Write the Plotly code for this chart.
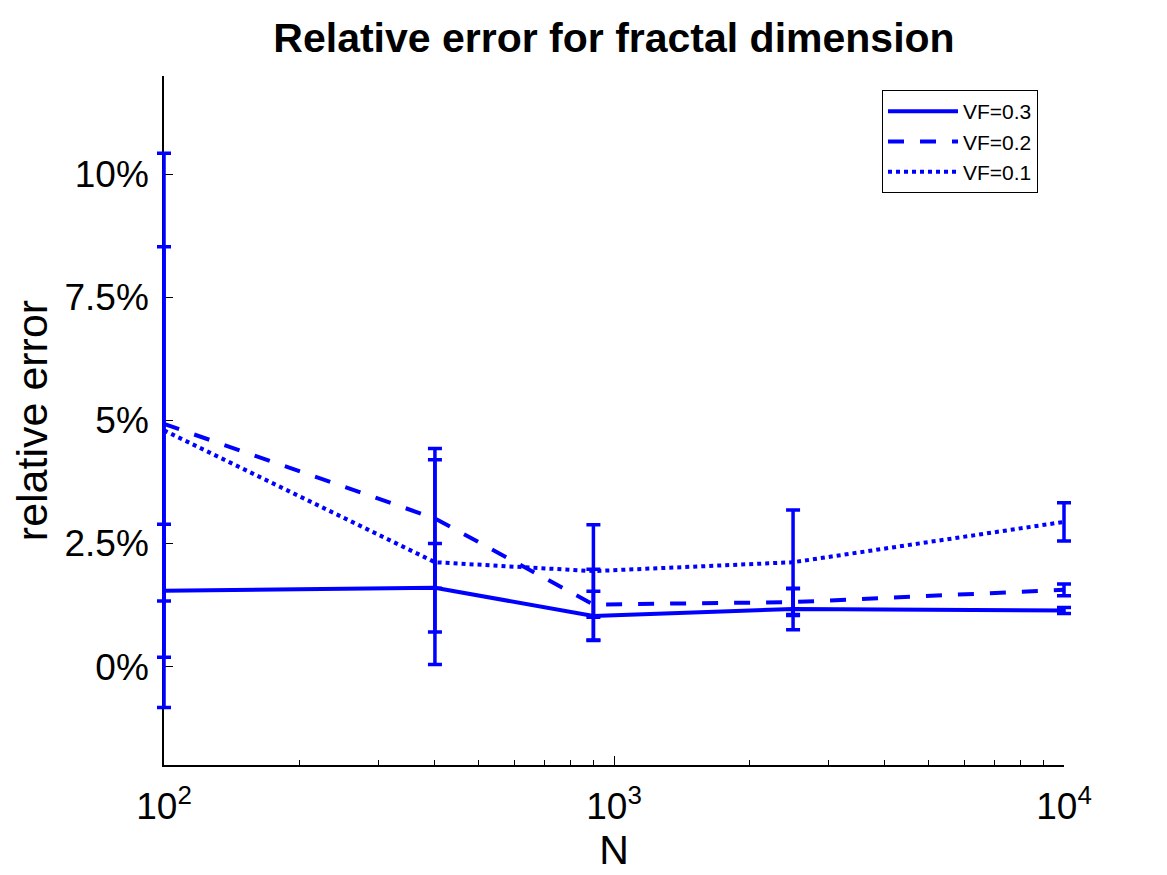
import plotly.graph_objects as go

N = [100, 400, 900, 2500, 10000]

vf03 = [0.0154, 0.0160, 0.0103, 0.0117, 0.0114]
vf03_err = [0.0135, 0.0090, 0.0050, 0.0042, 0.0006]

vf02 = [0.0493, 0.0301, 0.0126, 0.0131, 0.0156]
vf02_err = [0.0360, 0.0142, 0.0072, 0.0027, 0.0012]

vf01 = [0.0480, 0.0212, 0.0194, 0.0212, 0.0294]
vf01_err = [0.0563, 0.0208, 0.0094, 0.0106, 0.0039]

names = ["VF=0.3", "VF=0.2", "VF=0.1"]
ytick_vals = [0, 0.025, 0.05, 0.075, 0.10]
ytick_text = ["0%", "2.5%", "5%", "7.5%", "10%"]
xtick_vals = [100, 1000, 10000]
xtick_text = ["10<sup>2</sup>", "10<sup>3</sup>", "10<sup>4</sup>"]

BLUE = "#0000FF"
FONT = "Liberation Sans, Arial, Helvetica, sans-serif"

# layout geometry (pixels)
W, H = 1167, 875
ML, MR, MT, MB = 136, 91, 68, 118
PAD = 20                      # extra room so edge error bars are not clipped
PW = W - ML - MR              # paper width
DEC = (PW - 2 * PAD) / 2.0    # pixels per decade on the visible axis

fig = go.Figure()

# invisible trace that keeps the visible (axis-only) subplot alive
fig.add_trace(go.Scatter(
    x=N, y=vf03, mode="lines", xaxis="x", yaxis="y",
    line=dict(color="rgba(0,0,0,0)", width=0),
    showlegend=False, hoverinfo="skip",
))

series = [(vf03, vf03_err, "solid"), (vf02, vf02_err, "16px,16px"), (vf01, vf01_err, "dot")]
for (vals, errs, dash), name in zip(series, names):
    fig.add_trace(go.Scatter(
        x=N, y=vals, name=name, mode="lines",
        xaxis="x2", yaxis="y",
        line=dict(color=BLUE, width=4, dash=dash),
        error_y=dict(type="data", array=errs, visible=True, color=BLUE,
                     thickness=3.5, width=7),
    ))

fig.update_layout(
    width=W, height=H,
    margin=dict(l=ML, r=MR, t=MT, b=MB),
    paper_bgcolor="white", plot_bgcolor="rgba(0,0,0,0)",
    font=dict(family=FONT, color="black", size=37),
    title=dict(text="<b>Relative error for fractal dimension</b>",
               x=(ML + PAD + DEC) / W, xanchor="center", y=1 - 30 / H, yanchor="middle",
               font=dict(size=41, family=FONT, color="black")),
    showlegend=True,
    legend=dict(x=(874 - ML) / PW, y=(H - MB - 82) / (H - MT - MB),
                xanchor="left", yanchor="top",
                bgcolor="white", bordercolor="black", borderwidth=1,
                font=dict(size=21, family=FONT), itemwidth=70,
                tracegroupgap=0),
    xaxis=dict(
        type="log", range=[2, 4], domain=[PAD / PW, 1 - PAD / PW], anchor="y",
        showline=True, linecolor="black", linewidth=1.5, mirror=False,
        showgrid=False, zeroline=False,
        ticks="inside", ticklen=9, tickwidth=1.2, tickcolor="black",
        tickvals=xtick_vals, ticktext=xtick_text,
        tickfont=dict(size=37, family=FONT),
        minor=dict(ticks="inside", ticklen=5, tickwidth=1.2, tickcolor="black",
                   dtick="D1", showgrid=False),
        title=dict(text="N", font=dict(size=41, family=FONT), standoff=4),
        layer="below traces",
        ticklabelstandoff=8,
    ),
    xaxis2=dict(
        type="log", range=[2 - PAD / DEC, 4 + PAD / DEC], domain=[0, 1], anchor="y",
        visible=False, showgrid=False, zeroline=False,
    ),
    yaxis=dict(
        range=[-0.02, 0.12], anchor="x", domain=[0, 1],
        showline=True, linecolor="black", linewidth=1.5, mirror=False,
        showgrid=False, zeroline=False,
        ticks="inside", ticklen=9, tickwidth=1.2, tickcolor="black",
        tickvals=ytick_vals, ticktext=ytick_text,
        tickfont=dict(size=37, family=FONT),
        title=dict(text="relative error", font=dict(size=43, family=FONT), standoff=10),
        layer="below traces",
        ticklabelstandoff=6,
    ),
)

fig.write_html("out.html")
